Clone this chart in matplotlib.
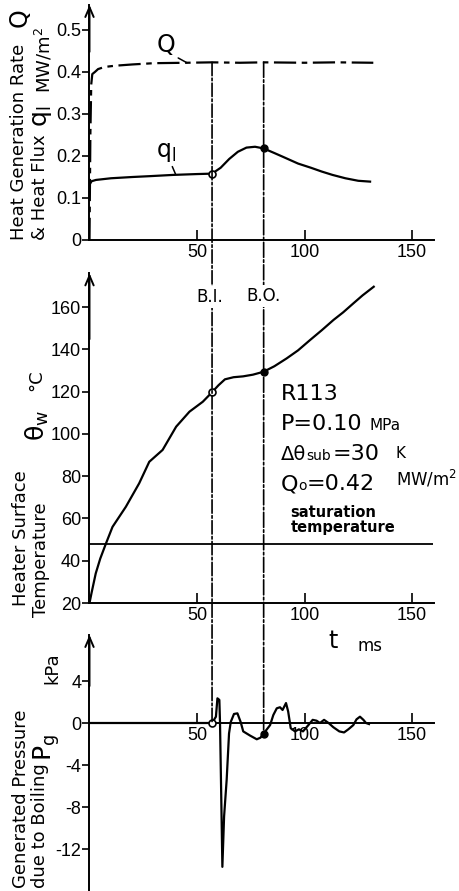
import numpy as np
import matplotlib
matplotlib.use("Agg")
import matplotlib.pyplot as plt
from matplotlib.patches import ConnectionPatch

plt.rcParams['font.family'] = 'Liberation Sans'
plt.rcParams['axes.unicode_minus'] = False
plt.rcParams['mathtext.default'] = 'regular'

# heat generation rate Q  (MW/m2)
t_q = [0, 0.4, 0.8, 1.3, 2.5, 4, 7, 12, 20, 30, 45, 57, 70, 81, 100, 115, 132]
Q = [0.0, 0.25, 0.37, 0.395, 0.40, 0.407, 0.412, 0.415, 0.418, 0.421, 0.422,
     0.423, 0.422, 0.423, 0.422, 0.423, 0.422]

# heat flux to liquid q_l  (MW/m2)
t_ql = [0, 1, 3, 10, 20, 28, 39, 50, 57, 61, 65, 69, 73, 77, 81, 86, 90, 97,
        103, 108, 113, 119, 125, 130.5]
ql = [0.132, 0.14, 0.143, 0.147, 0.15, 0.152, 0.155, 0.157, 0.158, 0.172,
      0.193, 0.210, 0.220, 0.222, 0.218, 0.207, 0.198, 0.182, 0.172, 0.163,
      0.155, 0.147, 0.141, 0.139]

# heater surface temperature (degC)
t_tw = [0, 1, 2.9, 5, 7.6, 10.7, 16.9, 23.1, 27.8, 34, 40.3, 46.5, 52.7, 57,
        60, 63, 67, 71.4, 76, 81, 86, 91.7, 97, 102.6, 108, 113.5, 118, 122.8,
        127, 132.2]
tw = [20, 25, 34, 41, 48, 56, 65.5, 76.6, 86.8, 92.4, 103.4, 110.5, 115.2,
      119.7, 123, 125.8, 126.8, 127.2, 128, 129.4, 132, 135.7, 139.5, 144.4,
      149, 153.9, 157.5, 161.8, 165.5, 169.6]
t_sat = 48

# generated pressure (kPa)
t_pg = [0, 57, 58.8, 59.5, 60.4, 60.7, 61.3, 61.8, 62.6, 63.8, 64.9, 65.7,
        67.2, 68.8, 70.3, 71.5, 74.7, 77.8, 79.5, 81, 84, 85.5, 87.1, 88.6,
        89.8, 91.4, 92.4, 93.6, 95.6, 97.4, 99.3, 101.8, 103.8, 105.6, 107.2,
        109.1, 111.2, 113.4, 116.2, 118.4, 120.4, 122.7, 124.2, 125.8, 127.4,
        128.6, 130]
pg = [0, 0, 0.6, 2.35, 2.2, 0.06, -7.3, -13.7, -8.9, -5.4, -1.0, 0.1, 0.86,
      0.92, 0.1, -0.8, -1.2, -1.55, -1.4, -1.0, -0.2, 0.76, 1.4, 1.5, 1.24,
      1.9, 1.1, -0.5, -0.8, -0.6, -0.8, -0.2, 0.3, 0.22, 0.0, 0.3, 0.0, -0.4,
      -0.8, -0.9, -0.6, -0.2, 0.35, 0.6, 0.3, 0.0, -0.1]

t_bi = 57   # boiling incipience
t_bo = 81   # burnout

W_PX, H_PX = 460, 891


def fpos(x, y):
    return x / W_PX, 1 - y / H_PX


fig = plt.figure(figsize=(W_PX / 100, H_PX / 100), dpi=100)
left, width = 89.5 / W_PX, 344 / W_PX
ax1 = fig.add_axes([left, 1 - 240 / H_PX, width, 235.2 / H_PX])
ax2 = fig.add_axes([left, 1 - 603 / H_PX, width, 329.8 / H_PX])
ax3 = fig.add_axes([left, 0, width, 256.2 / H_PX])

lw = 1.6
for ax in (ax1, ax2, ax3):
    ax.set_xlim(0, 160)
    ax.set_xticks([50, 100, 150])
    for s in ('top', 'right'):
        ax.spines[s].set_visible(False)
    for s in ('left', 'bottom'):
        ax.spines[s].set_linewidth(1.4)
    ax.tick_params(axis='x', direction='in', length=7, width=1.2,
                   labelsize=13, pad=3)
    ax.tick_params(axis='y', direction='out', length=5, width=1.2,
                   labelsize=13, pad=1)
    ax.annotate('', xy=(0, 1), xytext=(0, 0.8), xycoords='axes fraction',
                arrowprops=dict(arrowstyle='->,head_length=0.7,head_width=0.3',
                                lw=1.4, color='k', shrinkA=0, shrinkB=0),
                annotation_clip=False)

bi_style = (0, (8, 1.5, 1.5, 1.5))
bo_style = (0, (9, 1.5, 1.5, 1.5))

# top: Q and q_l
ax1.set_ylim(0, 0.56)
ax1.set_yticks([0, 0.1, 0.2, 0.3, 0.4, 0.5])
ax1.set_yticklabels(['0', '0.1', '0.2', '0.3', '0.4', '0.5'])
ax1.plot(t_q, Q, color='k', lw=lw, ls=(0, (10, 2.5, 2.5, 2.5)))
ax1.plot(t_ql, ql, color='k', lw=lw)
ax1.plot(t_bi, np.interp(t_bi, t_ql, ql), 'o', mfc='white', mec='k', ms=5,
         mew=1.2, zorder=5)
ax1.plot(t_bo, np.interp(t_bo, t_ql, ql), 'o', color='k', ms=5, zorder=5)
ax1.annotate('Q', xy=(45.3, 0.422), xytext=(35.6, 0.464), fontsize=17,
             ha='center', va='center', family='DejaVu Sans',
             arrowprops=dict(arrowstyle='-', lw=1.1, relpos=(0.95, 0.05),
                             shrinkA=0, shrinkB=0))
ax1.annotate(r'$\mathregular{q_l}$', xy=(40, 0.157), xytext=(35.6, 0.21),
             fontsize=17, ha='center', va='center', family='DejaVu Sans',
             arrowprops=dict(arrowstyle='-', lw=1.1, relpos=(0.75, 0.0),
                             shrinkA=0, shrinkB=0))

# middle: heater surface temperature
ax2.set_ylim(20, 176)
ax2.set_yticks(np.arange(20, 161, 20))
ax2.plot(t_tw, tw, color='k', lw=lw)
ax2.axhline(t_sat, color='k', lw=1.3)
ax2.plot(t_bi, np.interp(t_bi, t_tw, tw), 'o', mfc='white', mec='k', ms=5,
         mew=1.2, zorder=5)
ax2.plot(t_bo, np.interp(t_bo, t_tw, tw), 'o', color='k', ms=5, zorder=5)

# bottom: generated pressure
ax3.set_ylim(-16, 8.4)
ax3.set_yticks([4, 0, -4, -8, -12])
ax3.spines['bottom'].set_position(('data', 0))
ax3.plot(t_pg, pg, color='k', lw=lw)
ax3.plot(t_bi, 0, 'o', mfc='white', mec='k', ms=5, mew=1.2, zorder=5)
ax3.plot(t_bo, np.interp(t_bo, t_pg, pg), 'o', color='k', ms=5, zorder=5)

# B.I. / B.O. lines through all three panels
for tt, ls in ((t_bi, bi_style), (t_bo, bo_style)):
    con = ConnectionPatch(xyA=(tt, np.interp(tt, t_q, Q)), coordsA=ax1.transData,
                          xyB=(tt, np.interp(tt, t_pg, pg)), coordsB=ax3.transData,
                          color='k', lw=1.2, linestyle=ls, zorder=2)
    fig.add_artist(con)

lab = dict(rotation=90, ha='center', va='bottom', family='DejaVu Sans')
cen = dict(rotation=90, ha='center', va='center', family='DejaVu Sans')

# axis titles
fig.text(*fpos(19, 240), 'Heat Generation Rate', fontsize=13, **lab)
fig.text(*fpos(20, 18), 'Q', fontsize=17, **cen)
fig.text(*fpos(40, 240), '& Heat Flux', fontsize=13, **lab)
fig.text(*fpos(42, 116), r'$\mathregular{q_l}$', fontsize=18, **cen)
fig.text(*fpos(44, 60), r'MW/m$^2$', fontsize=13, **cen)

fig.text(*fpos(21, 606), 'Heater Surface', fontsize=13, **lab)
fig.text(*fpos(41, 617), 'Temperature', fontsize=13, **lab)
fig.text(*fpos(37, 425), r'$\mathregular{\theta_w}$', fontsize=18, **cen)
fig.text(*fpos(36, 380), '°C', fontsize=13, **cen)

fig.text(*fpos(21, 888), 'Generated Pressure', fontsize=13, **lab)
fig.text(*fpos(40, 888), 'due to Boiling', fontsize=13, **lab)
fig.text(*fpos(47, 748), r'$\mathregular{P_g}$', fontsize=18, **cen)
fig.text(*fpos(52, 668), 'kPa', fontsize=13, **cen)

fig.text(*fpos(333, 641), 't', fontsize=17, ha='center', va='center',
         family='DejaVu Sans')
fig.text(*fpos(358, 646), 'ms', fontsize=12, ha='left', va='center',
         family='DejaVu Sans')

box = dict(facecolor='white', edgecolor='none', pad=1.5)
fig.text(*fpos(210, 297), 'B.I.', fontsize=12, ha='center', va='center',
         family='DejaVu Sans', bbox=box, zorder=4)
fig.text(*fpos(263, 296), 'B.O.', fontsize=12, ha='center', va='center',
         family='DejaVu Sans', bbox=box, zorder=4)

# test conditions
tx = dict(family='DejaVu Sans', va='baseline', ha='left')
fig.text(*fpos(281, 400), 'R113', fontsize=16, **tx)
fig.text(*fpos(281, 430), 'P=0.10', fontsize=16, **tx)
fig.text(*fpos(370, 430), 'MPa', fontsize=11, **tx)
fig.text(*fpos(281, 460), 'Δθ', fontsize=14, **tx)
fig.text(*fpos(306, 460), 'sub', fontsize=10, **tx)
fig.text(*fpos(333, 460), '=30', fontsize=16, **tx)
fig.text(*fpos(396, 458), 'K', fontsize=11, **tx)
fig.text(*fpos(281, 490), 'Q', fontsize=16, **tx)
fig.text(*fpos(298, 490), 'o', fontsize=10, **tx)
fig.text(*fpos(307, 490), '=0.42', fontsize=16, **tx)
fig.text(*fpos(396, 486), r'MW/m$^2$', fontsize=12, **tx)
fig.text(*fpos(290, 517), 'saturation', fontsize=10.5, weight='bold', **tx)
fig.text(*fpos(291, 532), 'temperature', fontsize=10.5, weight='bold', **tx)

fig.savefig('out.png', dpi=100)
